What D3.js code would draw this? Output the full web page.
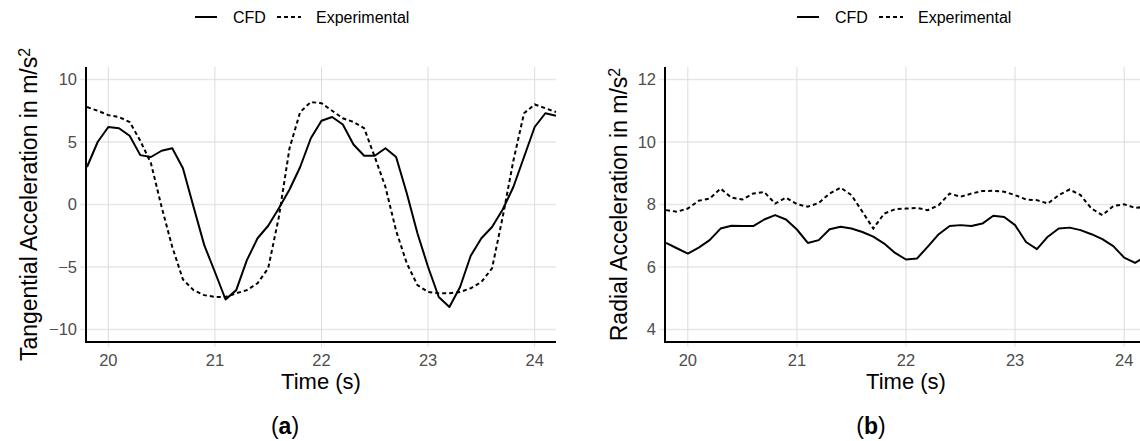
<!DOCTYPE html>
<html>
<head>
<meta charset="utf-8">
<script src="https://d3js.org/d3.v7.min.js"></script>
<style>
  body { margin: 0; background: #fff; }
  text { font-family: "Liberation Sans", Arial, sans-serif; }
</style>
</head>
<body>
<svg width="1140" height="441"></svg>
<script>
// time stamps (s)
var time = [19.8, 19.9, 20.0, 20.1, 20.2, 20.3, 20.4, 20.5, 20.6, 20.7, 20.8, 20.9,
            21.0, 21.1, 21.2, 21.3, 21.4, 21.5, 21.6, 21.7, 21.8, 21.9,
            22.0, 22.1, 22.2, 22.3, 22.4, 22.5, 22.6, 22.7, 22.8, 22.9,
            23.0, 23.1, 23.2, 23.3, 23.4, 23.5, 23.6, 23.7, 23.8, 23.9,
            24.0, 24.1, 24.2];

// panel (a) tangential acceleration
var cfdTangential = [3.0, 5.0, 6.2, 6.1, 5.5, 3.95, 3.8, 4.3, 4.5, 2.9, -0.2, -3.25,
                     -5.4, -7.6, -6.85, -4.45, -2.7, -1.7, -0.3, 1.2, 3.0, 5.3,
                     6.7, 7.0, 6.4, 4.8, 3.9, 3.9, 4.5, 3.8, 0.9, -2.3,
                     -5.0, -7.4, -8.2, -6.6, -4.1, -2.7, -1.8, -0.4, 1.4, 3.8,
                     6.2, 7.3, 7.1];
var expTangential = [7.8, 7.5, 7.15, 7.0, 6.6, 5.1, 3.3, -0.2, -3.4, -6.0, -6.85, -7.25,
                     -7.4, -7.4, -7.1, -6.85, -6.3, -5.1, -1.0, 4.5, 7.4, 8.2,
                     8.1, 7.5, 6.9, 6.6, 6.1, 3.8, 1.4, -2.1, -4.7, -6.45,
                     -7.0, -7.1, -7.1, -7.0, -6.7, -6.2, -5.1, -1.0, 3.5, 7.3,
                     8.0, 7.7, 7.4];

// panel (b) radial acceleration
var cfdRadial = [6.77, 6.6, 6.43, 6.62, 6.86, 7.23, 7.32, 7.31, 7.31, 7.52, 7.66, 7.52,
                 7.2, 6.77, 6.86, 7.21, 7.29, 7.23, 7.12, 6.97, 6.75, 6.45,
                 6.24, 6.27, 6.65, 7.05, 7.31, 7.34, 7.31, 7.39, 7.64, 7.6,
                 7.34, 6.8, 6.57, 6.97, 7.23, 7.26, 7.18, 7.05, 6.89, 6.67,
                 6.3, 6.13, 6.35];
var expRadial = [7.82, 7.77, 7.87, 8.12, 8.19, 8.51, 8.22, 8.16, 8.35, 8.4, 8.03, 8.22,
                 8.01, 7.93, 8.05, 8.35, 8.54, 8.3, 7.77, 7.23, 7.71, 7.85,
                 7.87, 7.89, 7.82, 7.98, 8.35, 8.25, 8.35, 8.43, 8.44, 8.41,
                 8.3, 8.16, 8.14, 8.03, 8.3, 8.48, 8.3, 7.87, 7.66, 7.95,
                 8.01, 7.89, 7.93];

var xTicks = [20, 21, 22, 23, 24];
var yTicksTangential = [-10, -5, 0, 5, 10];
var yTicksRadial = [4, 6, 8, 10, 12];

var svg = d3.select("svg");

// vertical extent of both plot panels
var plotTop = 67, plotBottom = 342;

function drawPanel(opt) {
  var x = d3.scaleLinear().domain([19.8, 24.2]).range([opt.left, opt.right]),
      y = d3.scaleLinear().domain(opt.yDomain).range([plotBottom, plotTop]);

  var g = svg.append("g");
  var x0 = opt.left - 1,
      xEnd = Math.min(opt.right, 1140);

  // grid lines (with short stubs past the axes, like ggplot ticks)
  g.selectAll(".hgrid")
    .data(opt.yTicks)
    .enter().append("line")
      .attr("x1", x0 - 6).attr("x2", xEnd)
      .attr("y1", function(d) { return y(d); })
      .attr("y2", function(d) { return y(d); })
      .attr("stroke", "#e6e6e6")
      .attr("stroke-width", 1.5);

  g.selectAll(".vgrid")
    .data(xTicks)
    .enter().append("line")
      .attr("x1", function(d) { return x(d); })
      .attr("x2", function(d) { return x(d); })
      .attr("y1", plotTop).attr("y2", plotBottom + 5)
      .attr("stroke", "#dcdcdc")
      .attr("stroke-width", 1);

  var line = function(vals) {
    return d3.line()
      .x(function(d, i) { return x(time[i]); })
      .y(function(d) { return y(d); })(vals);
  };

  g.append("path")
    .attr("d", line(opt.exp))
    .attr("fill", "none")
    .attr("stroke", "#000")
    .attr("stroke-width", 2)
    .attr("stroke-dasharray", "4,3");

  g.append("path")
    .attr("d", line(opt.cfd))
    .attr("fill", "none")
    .attr("stroke", "#000")
    .attr("stroke-width", 2)
    .attr("stroke-linejoin", "round");

  // axis lines
  g.append("line")
    .attr("x1", x0).attr("x2", x0)
    .attr("y1", plotTop).attr("y2", plotBottom + 1)
    .attr("stroke", "#000").attr("stroke-width", 2);
  g.append("line")
    .attr("x1", x0 - 1).attr("x2", xEnd)
    .attr("y1", plotBottom).attr("y2", plotBottom)
    .attr("stroke", "#000").attr("stroke-width", 2);

  // tick labels
  g.selectAll(".ylab")
    .data(opt.yTicks)
    .enter().append("text")
      .attr("x", x0 - 9)
      .attr("y", function(d) { return y(d); })
      .attr("dy", "0.35em")
      .attr("text-anchor", "end")
      .attr("font-size", 16.5)
      .attr("fill", "#4d4d4d")
      .text(function(d) { return d < 0 ? "\u2212" + Math.abs(d) : d; });

  g.selectAll(".xlab")
    .data(xTicks)
    .enter().append("text")
      .attr("x", function(d) { return x(d); })
      .attr("y", 366)
      .attr("text-anchor", "middle")
      .attr("font-size", 16.5)
      .attr("fill", "#4d4d4d")
      .text(function(d) { return d; });

  // axis titles
  g.append("text")
    .attr("x", opt.titleX)
    .attr("y", 389)
    .attr("text-anchor", "middle")
    .attr("font-size", 22)
    .attr("fill", "#000")
    .text("Time (s)");

  var yt = g.append("text")
    .attr("transform", "translate(" + opt.yTitleX + "," + (plotTop + plotBottom) / 2 + ") rotate(-90)")
    .attr("text-anchor", "middle")
    .attr("font-size", 23)
    .attr("fill", "#000");
  yt.append("tspan").text(opt.yTitle + " in m/s");
  yt.append("tspan").attr("dy", "-0.45em").attr("font-size", 16).text("2");

  // legend
  var lg = g.append("g").attr("transform", "translate(" + opt.legendX + ",17)");
  lg.append("line").attr("x1", 0).attr("x2", 22)
    .attr("stroke", "#000").attr("stroke-width", 2);
  lg.append("text").attr("x", 38).attr("dy", "0.35em")
    .attr("font-size", 16).text("CFD");
  lg.append("line").attr("x1", 82).attr("x2", 106)
    .attr("stroke", "#000").attr("stroke-width", 2)
    .attr("stroke-dasharray", "4,3");
  lg.append("text").attr("x", 121).attr("dy", "0.35em")
    .attr("font-size", 16).text("Experimental");

  // panel label
  var pl = g.append("text")
    .attr("x", opt.panelX)
    .attr("y", 434)
    .attr("text-anchor", "middle")
    .attr("font-family", "'Liberation Serif', 'DejaVu Serif', serif")
    .attr("font-size", 23);
  pl.append("tspan").text("(");
  pl.append("tspan").attr("font-weight", "bold").text(opt.panel);
  pl.append("tspan").text(")");
}

drawPanel({
  left: 87, right: 556,
  yDomain: [-11, 11], yTicks: yTicksTangential,
  cfd: cfdTangential, exp: expTangential,
  yTitle: "Tangential Acceleration", yTitleX: 37,
  titleX: 321, legendX: 195, panelX: 285, panel: "a"
});

drawPanel({
  left: 666, right: 1146,
  yDomain: [3.6, 12.4], yTicks: yTicksRadial,
  cfd: cfdRadial, exp: expRadial,
  yTitle: "Radial Acceleration", yTitleX: 627,
  titleX: 906, legendX: 797, panelX: 871, panel: "b"
});
</script>
</body>
</html>
